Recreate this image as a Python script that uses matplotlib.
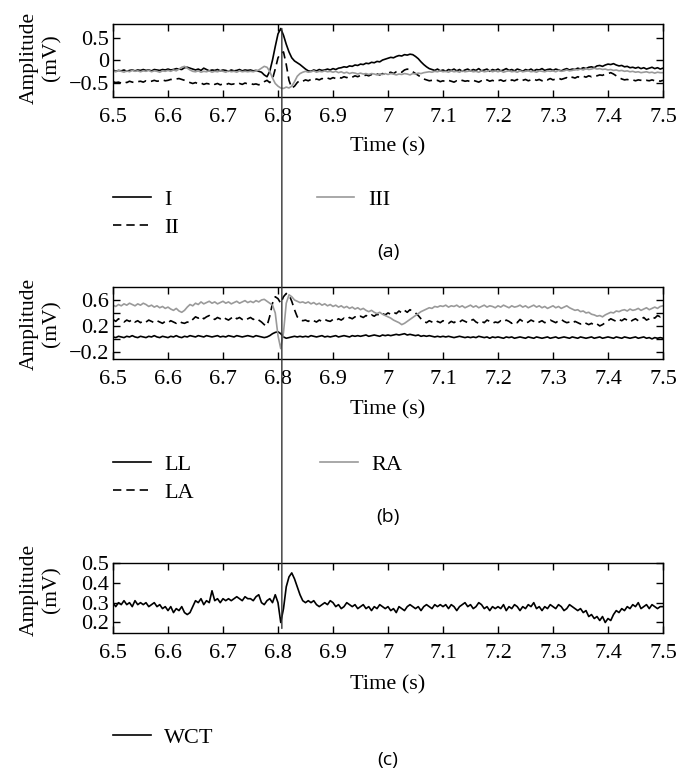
import numpy as np
import matplotlib
matplotlib.use('Agg')
import matplotlib.pyplot as plt
from matplotlib.patches import ConnectionPatch

plt.rcParams['font.family'] = ['Liberation Serif', 'DejaVu Serif']
plt.rcParams['axes.linewidth'] = 1.0

# sample times: 6.5 s to 7.5 s, 5 ms apart
t0, dt, n = 6.5, 0.005, 201
t = t0 + dt * np.arange(n)

# (a) limb leads, mV
lead_I = [
    -0.22, -0.25, -0.23, -0.24, -0.22, -0.25, -0.23, -0.22, -0.24, -0.22,
    -0.23, -0.21, -0.23, -0.22, -0.24, -0.21, -0.22, -0.23, -0.21, -0.22,
    -0.20, -0.22, -0.21, -0.19, -0.20, -0.21, -0.17, -0.16, -0.18, -0.20,
    -0.22, -0.20, -0.23, -0.18, -0.21, -0.24, -0.22, -0.23, -0.21, -0.24,
    -0.22, -0.23, -0.25, -0.22, -0.24, -0.23, -0.21, -0.24, -0.22, -0.23,
    -0.22, -0.24, -0.23, -0.25, -0.27, -0.33, -0.37, -0.25, 0.00, 0.30,
    0.58, 0.70, 0.55, 0.35, 0.18, 0.05, -0.02, -0.06, -0.10, -0.15,
    -0.20, -0.24, -0.25, -0.22, -0.24, -0.21, -0.23, -0.22, -0.20, -0.22,
    -0.19, -0.21, -0.18, -0.17, -0.15, -0.16, -0.13, -0.14, -0.11, -0.12,
    -0.09, -0.10, -0.07, -0.08, -0.05, -0.06, -0.03, -0.04, 0.00, 0.02,
    0.04, 0.06, 0.05, 0.08, 0.10, 0.09, 0.12, 0.11, 0.13, 0.12,
    0.08, 0.03, -0.04, -0.10, -0.15, -0.19, -0.21, -0.23, -0.20, -0.24,
    -0.22, -0.25, -0.21, -0.23, -0.20, -0.24, -0.21, -0.25, -0.22, -0.20,
    -0.24, -0.21, -0.23, -0.19, -0.24, -0.22, -0.20, -0.25, -0.21, -0.23,
    -0.20, -0.24, -0.22, -0.19, -0.23, -0.21, -0.24, -0.20, -0.22, -0.25,
    -0.21, -0.23, -0.20, -0.24, -0.21, -0.22, -0.19, -0.23, -0.21, -0.20,
    -0.23, -0.20, -0.22, -0.24, -0.21, -0.19, -0.22, -0.20, -0.21, -0.18,
    -0.20, -0.17, -0.19, -0.16, -0.15, -0.17, -0.13, -0.12, -0.14, -0.11,
    -0.09, -0.10, -0.08, -0.11, -0.13, -0.12, -0.15, -0.14, -0.17, -0.16,
    -0.18, -0.16, -0.19, -0.17, -0.20, -0.18, -0.16, -0.19, -0.17, -0.20,
    -0.18]
lead_II = [
    -0.48, -0.50, -0.49, -0.51, -0.48, -0.50, -0.47, -0.49, -0.50, -0.48,
    -0.47, -0.49, -0.46, -0.48, -0.47, -0.45, -0.47, -0.46, -0.44, -0.46,
    -0.45, -0.43, -0.44, -0.42, -0.41, -0.43, -0.45, -0.48, -0.50, -0.52,
    -0.50, -0.53, -0.51, -0.54, -0.52, -0.53, -0.51, -0.54, -0.52, -0.55,
    -0.53, -0.55, -0.52, -0.54, -0.53, -0.55, -0.52, -0.54, -0.51, -0.53,
    -0.52, -0.54, -0.53, -0.55, -0.52, -0.48, -0.45, -0.50, -0.42, -0.20,
    0.05, 0.15, 0.18, -0.10, -0.45, -0.62, -0.58, -0.50, -0.45, -0.47,
    -0.44, -0.46, -0.43, -0.45, -0.42, -0.44, -0.41, -0.43, -0.40, -0.42,
    -0.39, -0.41, -0.38, -0.40, -0.37, -0.39, -0.36, -0.38, -0.35, -0.37,
    -0.34, -0.36, -0.33, -0.35, -0.32, -0.34, -0.31, -0.33, -0.30, -0.32,
    -0.29, -0.27, -0.30, -0.26, -0.24, -0.27, -0.22, -0.20, -0.22, -0.26,
    -0.30, -0.34, -0.38, -0.42, -0.44, -0.46, -0.45, -0.47, -0.45, -0.48,
    -0.46, -0.48, -0.45, -0.47, -0.49, -0.46, -0.48, -0.45, -0.47, -0.46,
    -0.48, -0.45, -0.47, -0.49, -0.46, -0.48, -0.44, -0.47, -0.45, -0.48,
    -0.46, -0.44, -0.47, -0.45, -0.48, -0.44, -0.46, -0.43, -0.47, -0.45,
    -0.43, -0.46, -0.44, -0.42, -0.45, -0.43, -0.46, -0.42, -0.44, -0.41,
    -0.44, -0.42, -0.40, -0.43, -0.41, -0.39, -0.42, -0.38, -0.40, -0.37,
    -0.39, -0.36, -0.38, -0.35, -0.37, -0.34, -0.35, -0.33, -0.34, -0.31,
    -0.30, -0.28, -0.31, -0.35, -0.39, -0.42, -0.44, -0.43, -0.45, -0.44,
    -0.46, -0.44, -0.45, -0.47, -0.45, -0.46, -0.44, -0.46, -0.45, -0.47,
    -0.45]
lead_III = [
    -0.24, -0.26, -0.23, -0.25, -0.27, -0.24, -0.26, -0.23, -0.25, -0.24,
    -0.26, -0.24, -0.25, -0.23, -0.26, -0.24, -0.25, -0.27, -0.24, -0.25,
    -0.23, -0.25, -0.22, -0.24, -0.20, -0.16, -0.14, -0.18, -0.22, -0.25,
    -0.26, -0.24, -0.27, -0.25, -0.26, -0.24, -0.27, -0.25, -0.26, -0.24,
    -0.25, -0.27, -0.24, -0.26, -0.25, -0.27, -0.24, -0.26, -0.25, -0.26,
    -0.25, -0.26, -0.24, -0.22, -0.18, -0.14, -0.16, -0.25, -0.40, -0.52,
    -0.58, -0.62, -0.63, -0.60, -0.62, -0.58, -0.48, -0.36, -0.30, -0.27,
    -0.25, -0.27, -0.26, -0.24, -0.27, -0.25, -0.26, -0.24, -0.26, -0.25,
    -0.27, -0.25, -0.28, -0.26, -0.29, -0.27, -0.30, -0.28, -0.29, -0.31,
    -0.29, -0.31, -0.30, -0.32, -0.30, -0.31, -0.33, -0.31, -0.32, -0.30,
    -0.32, -0.30, -0.31, -0.33, -0.31, -0.32, -0.30, -0.31, -0.33, -0.30,
    -0.31, -0.29, -0.30, -0.28, -0.27, -0.26, -0.27, -0.25, -0.26, -0.24,
    -0.26, -0.25, -0.27, -0.24, -0.26, -0.25, -0.27, -0.24, -0.26, -0.25,
    -0.24, -0.26, -0.25, -0.27, -0.24, -0.26, -0.25, -0.23, -0.26, -0.24,
    -0.26, -0.24, -0.27, -0.25, -0.24, -0.26, -0.25, -0.27, -0.24, -0.26,
    -0.25, -0.24, -0.26, -0.25, -0.27, -0.24, -0.25, -0.26, -0.24, -0.25,
    -0.24, -0.26, -0.23, -0.25, -0.24, -0.22, -0.24, -0.23, -0.21, -0.22,
    -0.20, -0.22, -0.19, -0.21, -0.20, -0.18, -0.20, -0.19, -0.21, -0.20,
    -0.22, -0.21, -0.23, -0.22, -0.24, -0.23, -0.25, -0.24, -0.26, -0.25,
    -0.27, -0.26, -0.28, -0.27, -0.26, -0.28, -0.27, -0.29, -0.27, -0.28,
    -0.28]

# (b) electrode potentials, mV
elec_LL = [
    0.03, 0.02, 0.04, 0.03, 0.02, 0.04, 0.03, 0.05, 0.03, 0.02,
    0.04, 0.03, 0.02, 0.04, 0.03, 0.05, 0.03, 0.02, 0.04, 0.03,
    0.02, 0.04, 0.03, 0.05, 0.03, 0.02, 0.04, 0.03, 0.05, 0.04,
    0.03, 0.05, 0.04, 0.03, 0.05, 0.04, 0.03, 0.04, 0.05, 0.03,
    0.04, 0.03, 0.05, 0.04, 0.03, 0.05, 0.04, 0.03, 0.04, 0.05,
    0.04, 0.03, 0.05, 0.04, 0.03, 0.02, 0.03, 0.05, 0.08, 0.10,
    0.11, 0.08, 0.03, 0.01, 0.02, 0.03, 0.04, 0.03, 0.04, 0.03,
    0.04, 0.03, 0.05, 0.04, 0.03, 0.04, 0.05, 0.03, 0.04, 0.03,
    0.04, 0.05, 0.03, 0.04, 0.05, 0.04, 0.03, 0.05, 0.04, 0.05,
    0.04, 0.05, 0.06, 0.04, 0.05, 0.06, 0.05, 0.04, 0.06, 0.05,
    0.06, 0.05, 0.06, 0.07, 0.06, 0.07, 0.08, 0.06, 0.07, 0.06,
    0.05, 0.06, 0.04, 0.05, 0.04, 0.05, 0.04, 0.03, 0.04, 0.03,
    0.04, 0.03, 0.04, 0.03, 0.02, 0.03, 0.04, 0.03, 0.02, 0.03,
    0.02, 0.03, 0.02, 0.04, 0.03, 0.02, 0.03, 0.01, 0.03, 0.02,
    0.03, 0.02, 0.01, 0.03, 0.02, 0.03, 0.01, 0.02, 0.03, 0.02,
    0.01, 0.03, 0.02, 0.01, 0.03, 0.02, 0.01, 0.02, 0.03, 0.01,
    0.02, 0.03, 0.01, 0.02, 0.03, 0.02, 0.01, 0.03, 0.02, 0.01,
    0.03, 0.02, 0.01, 0.02, 0.03, 0.01, 0.02, 0.03, 0.01, 0.02,
    0.03, 0.02, 0.01, 0.03, 0.02, 0.01, 0.03, 0.02, 0.01, 0.02,
    0.03, 0.01, 0.02, 0.03, 0.01, 0.02, 0.00, 0.02, 0.01, 0.02,
    0.01]
elec_LA = [
    0.30, 0.27, 0.31, 0.28, 0.26, 0.29, 0.27, 0.30, 0.26, 0.28,
    0.25, 0.28, 0.26, 0.29, 0.27, 0.25, 0.28, 0.26, 0.24, 0.27,
    0.25, 0.28, 0.26, 0.24, 0.27, 0.25, 0.24, 0.26, 0.25, 0.30,
    0.34, 0.32, 0.35, 0.31, 0.34, 0.36, 0.32, 0.30, 0.33, 0.31,
    0.34, 0.31, 0.29, 0.32, 0.35, 0.31, 0.33, 0.30, 0.28, 0.31,
    0.33, 0.30, 0.32, 0.29, 0.26, 0.22, 0.20, 0.35, 0.55, 0.65,
    0.62, 0.55, 0.65, 0.70, 0.68, 0.58, 0.45, 0.34, 0.30, 0.28,
    0.29, 0.27, 0.30, 0.28, 0.26, 0.29, 0.27, 0.30, 0.28, 0.27,
    0.30, 0.28, 0.31, 0.29, 0.32, 0.30, 0.33, 0.31, 0.34, 0.32,
    0.35, 0.33, 0.36, 0.34, 0.37, 0.35, 0.38, 0.36, 0.39, 0.37,
    0.40, 0.38, 0.41, 0.39, 0.43, 0.40, 0.44, 0.41, 0.45, 0.42,
    0.40, 0.36, 0.31, 0.27, 0.25, 0.28, 0.26, 0.24, 0.27, 0.25,
    0.28, 0.26, 0.24, 0.27, 0.25, 0.28, 0.26, 0.29, 0.27, 0.25,
    0.28, 0.30, 0.26, 0.24, 0.27, 0.25, 0.29, 0.27, 0.24, 0.26,
    0.25, 0.28, 0.26, 0.29, 0.27, 0.24, 0.27, 0.25, 0.30, 0.27,
    0.24, 0.26, 0.29, 0.27, 0.24, 0.26, 0.28, 0.25, 0.27, 0.29,
    0.27, 0.25, 0.28, 0.30, 0.27, 0.25, 0.26, 0.24, 0.27, 0.25,
    0.23, 0.26, 0.24, 0.22, 0.24, 0.21, 0.23, 0.20, 0.22, 0.25,
    0.28, 0.31, 0.29, 0.27, 0.30, 0.28, 0.31, 0.29, 0.26, 0.29,
    0.31, 0.28, 0.30, 0.33, 0.29, 0.31, 0.34, 0.32, 0.36, 0.34,
    0.37]
elec_RA = [
    0.52, 0.50, 0.53, 0.51, 0.54, 0.52, 0.55, 0.53, 0.51, 0.54,
    0.52, 0.55, 0.53, 0.50, 0.52, 0.49, 0.51, 0.48, 0.50, 0.47,
    0.49, 0.46, 0.44, 0.47, 0.43, 0.41, 0.44, 0.49, 0.53, 0.51,
    0.55, 0.53, 0.57, 0.54, 0.56, 0.58, 0.55, 0.57, 0.54, 0.56,
    0.58, 0.55, 0.57, 0.54, 0.56, 0.58, 0.55, 0.57, 0.59, 0.56,
    0.58, 0.56, 0.59, 0.57, 0.60, 0.61, 0.58, 0.55, 0.52, 0.40,
    0.05, -0.15, 0.10, 0.55, 0.68, 0.65, 0.60, 0.58, 0.56, 0.57,
    0.55, 0.57, 0.54, 0.56, 0.53, 0.55, 0.52, 0.54, 0.51, 0.53,
    0.50, 0.52, 0.49, 0.51, 0.48, 0.50, 0.47, 0.49, 0.46, 0.48,
    0.45, 0.47, 0.44, 0.42, 0.44, 0.41, 0.39, 0.41, 0.38, 0.36,
    0.34, 0.32, 0.29, 0.27, 0.25, 0.22, 0.24, 0.27, 0.30, 0.33,
    0.36, 0.39, 0.42, 0.44, 0.46, 0.48, 0.47, 0.50, 0.49, 0.51,
    0.50, 0.52, 0.49, 0.51, 0.50, 0.52, 0.49, 0.51, 0.48, 0.50,
    0.52, 0.49, 0.51, 0.48, 0.50, 0.52, 0.49, 0.51, 0.50, 0.48,
    0.51, 0.49, 0.52, 0.50, 0.48, 0.51, 0.49, 0.50, 0.52, 0.49,
    0.51, 0.48, 0.50, 0.52, 0.49, 0.51, 0.48, 0.50, 0.47, 0.49,
    0.51, 0.48, 0.50, 0.47, 0.49, 0.51, 0.48, 0.46, 0.44, 0.45,
    0.42, 0.43, 0.40, 0.41, 0.38, 0.37, 0.35, 0.36, 0.34, 0.37,
    0.39, 0.41, 0.40, 0.43, 0.42, 0.44, 0.45, 0.43, 0.46, 0.44,
    0.45, 0.47, 0.44, 0.46, 0.48, 0.45, 0.47, 0.49, 0.47, 0.50,
    0.51]

# (c) Wilson central terminal, mV
wct = [
    0.30, 0.28, 0.30, 0.29, 0.31, 0.29, 0.30, 0.28, 0.31, 0.29,
    0.30, 0.29, 0.30, 0.28, 0.29, 0.30, 0.28, 0.29, 0.27, 0.28,
    0.26, 0.28, 0.25, 0.27, 0.26, 0.28, 0.25, 0.24, 0.25, 0.28,
    0.31, 0.30, 0.32, 0.29, 0.31, 0.30, 0.36, 0.31, 0.32, 0.30,
    0.32, 0.31, 0.32, 0.31, 0.32, 0.33, 0.32, 0.31, 0.33, 0.32,
    0.32, 0.31, 0.33, 0.34, 0.30, 0.29, 0.31, 0.32, 0.30, 0.34,
    0.30, 0.20, 0.27, 0.38, 0.43, 0.45, 0.42, 0.38, 0.34, 0.31,
    0.30, 0.31, 0.30, 0.31, 0.29, 0.28, 0.29, 0.30, 0.29, 0.31,
    0.30, 0.28, 0.29, 0.27, 0.28, 0.30, 0.29, 0.28, 0.29, 0.27,
    0.28, 0.29, 0.27, 0.28, 0.26, 0.28, 0.27, 0.29, 0.28, 0.27,
    0.28, 0.26, 0.27, 0.25, 0.28, 0.27, 0.26, 0.28, 0.29, 0.28,
    0.27, 0.28, 0.26, 0.28, 0.29, 0.28, 0.27, 0.29, 0.28, 0.29,
    0.28, 0.29, 0.27, 0.29, 0.28, 0.26, 0.28, 0.29, 0.30, 0.28,
    0.29, 0.27, 0.28, 0.30, 0.29, 0.27, 0.28, 0.26, 0.28, 0.27,
    0.28, 0.27, 0.29, 0.26, 0.28, 0.27, 0.29, 0.28, 0.26, 0.28,
    0.27, 0.29, 0.28, 0.30, 0.27, 0.28, 0.26, 0.28, 0.27, 0.29,
    0.28, 0.27, 0.29, 0.28, 0.26, 0.27, 0.29, 0.28, 0.27, 0.26,
    0.27, 0.25, 0.26, 0.23, 0.24, 0.22, 0.23, 0.21, 0.23, 0.20,
    0.22, 0.21, 0.24, 0.26, 0.25, 0.27, 0.26, 0.28, 0.27, 0.29,
    0.28, 0.30, 0.27, 0.28, 0.29, 0.27, 0.29, 0.28, 0.27, 0.28,
    0.28]

x_ticks = [6.5, 6.6, 6.7, 6.8, 6.9, 7.0, 7.1, 7.2, 7.3, 7.4, 7.5]
x_ticklabels = ['6.5', '6.6', '6.7', '6.8', '6.9', '7', '7.1', '7.2', '7.3', '7.4', '7.5']
t_marker = 6.807  # R-peak marker

GRAY = '#9a9a9a'
DASH = (0, (5, 3))
FS = 16

W, H = 686, 784
fig = plt.figure(figsize=(W / 100, H / 100), dpi=100)


def px_axes(left, top, right, bottom):
    return fig.add_axes([left / W, 1 - bottom / H, (right - left) / W, (bottom - top) / H])


def style(ax, ylim, yticks, ylabels):
    ax.set_xlim(6.5, 7.5)
    ax.set_ylim(*ylim)
    ax.set_xticks(x_ticks)
    ax.set_xticklabels(x_ticklabels)
    ax.set_yticks(yticks)
    ax.set_yticklabels(ylabels)
    ax.tick_params(direction='in', top=True, right=True, length=5, width=1.0,
                   labelsize=FS, pad=3)
    ax.tick_params(axis='x', pad=8)


ax_a = px_axes(113, 24, 663, 97)
ax_b = px_axes(113, 287, 663, 359)
ax_c = px_axes(113, 563, 663, 633)

ax_a.plot(t, lead_I, color='black', lw=1.2, label='I')
ax_a.plot(t, lead_II, color='black', lw=1.2, ls=DASH, label='II')
ax_a.plot(t, lead_III, color=GRAY, lw=1.2, label='III')
style(ax_a, (-0.82, 0.80), [-0.5, 0, 0.5], ['\u22120.5', '0', '0.5'])

ax_b.plot(t, elec_LL, color='black', lw=1.2, label='LL')
ax_b.plot(t, elec_LA, color='black', lw=1.2, ls=DASH, label='LA')
ax_b.plot(t, elec_RA, color=GRAY, lw=1.2, label='RA')
style(ax_b, (-0.31, 0.80), [-0.2, 0, 0.2, 0.4, 0.6], ['\u22120.2', '', '0.2', '', '0.6'])

ax_c.plot(t, wct, color='black', lw=1.2, label='WCT')
style(ax_c, (0.147, 0.50), [0.2, 0.3, 0.4, 0.5], ['0.2', '0.3', '0.4', '0.5'])

# axis titles, legends and captions, placed in pixel rows
panels = [
    (ax_a, 58, 147, 189, 6.2, 252, '(a)'),
    (ax_b, 324, 410, 454, 5.7, 517, '(b)'),
    (ax_c, 590, 685, 727, 5.7, 760, '(c)'),
]
for ax, ylab_y, xlab_y, leg_top, colsp, cap_y, cap in panels:
    fig.text(40.5 / W, 1 - ylab_y / H, 'Amplitude\n(mV)', rotation=90, ha='center',
             va='center', fontsize=15.5, linespacing=1.2, multialignment='center')
    fig.text(388 / W, 1 - xlab_y / H, 'Time (s)', ha='center', va='center', fontsize=FS)
    ax.legend(loc='upper left', bbox_to_anchor=(113 / W, 1 - leg_top / H),
              bbox_transform=fig.transFigure, ncol=2, frameon=False, fontsize=FS,
              handlelength=1.7, handletextpad=0.6, columnspacing=colsp,
              labelspacing=0.34, borderpad=0, borderaxespad=0)
    fig.text(388 / W, 1 - cap_y / H, cap, ha='center', va='center', fontsize=14,
             family=['Open Sans', 'DejaVu Sans'])

# vertical marker through the R peak, from panel (a) down to panel (c)
con = ConnectionPatch(xyA=(t_marker, 0.70), coordsA='data', axesA=ax_a,
                      xyB=(t_marker, 0.17), coordsB='data', axesB=ax_c,
                      color='#333333', lw=1.0, zorder=5)
fig.add_artist(con)

fig.savefig('out.png', dpi=100)
